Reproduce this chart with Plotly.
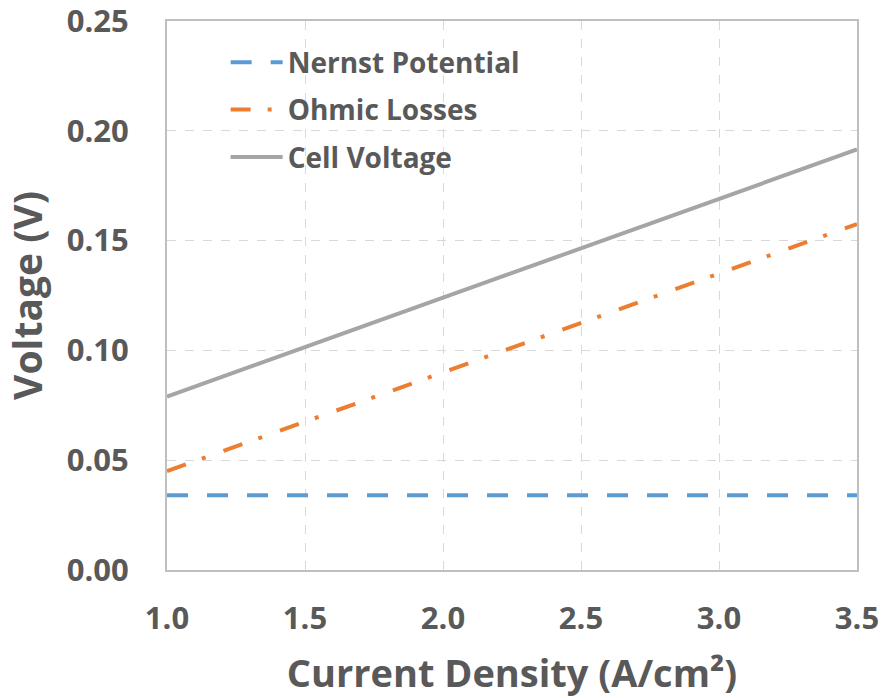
import plotly.graph_objects as go

current_density = [1.0, 1.5, 2.0, 2.5, 3.0, 3.5]
nernst_potential = [0.034, 0.034, 0.034, 0.034, 0.034, 0.034]
ohmic_losses = [0.045, 0.0675, 0.090, 0.1125, 0.135, 0.1575]
cell_voltage = [0.079, 0.1015, 0.124, 0.1465, 0.169, 0.1915]

x_ticks = [1.0, 1.5, 2.0, 2.5, 3.0, 3.5]
y_ticks = [0.00, 0.05, 0.10, 0.15, 0.20, 0.25]

FONT = "Open Sans"
TXT = "#595959"

fig = go.Figure()
fig.add_trace(go.Scatter(x=current_density, y=nernst_potential, mode="lines",
                         name="Nernst Potential", legendgroup="a",
                         line=dict(color="#5B9BD5", width=4, dash="21px,19px")))
fig.add_trace(go.Scatter(x=current_density, y=ohmic_losses, mode="lines",
                         name="Ohmic Losses", legendgroup="b",
                         line=dict(color="#ED7D31", width=4, dash="20px,17px,4px,19px")))
fig.add_trace(go.Scatter(x=current_density, y=cell_voltage, mode="lines",
                         name="Cell Voltage", legendgroup="c",
                         line=dict(color="#A5A5A5", width=4)))

axis_common = dict(
    showline=True, linecolor="#BFBFBF", linewidth=2, mirror=True,
    showgrid=True, gridcolor="#D9D9D9", gridwidth=1, griddash="dash",
    zeroline=False, ticks="", ticklabeloverflow="allow",
    tickfont=dict(family=FONT, size=31, color=TXT, weight="bold"),
)

fig.update_xaxes(range=[1.0, 3.5], tickvals=x_ticks,
                 ticktext=[f"{v:.1f}" for v in x_ticks],
                 ticklabelstandoff=20,
                 title=dict(text="Current Density (A/cm²)", standoff=33,
                            font=dict(family=FONT, size=38, color=TXT, weight="bold")),
                 **axis_common)
fig.update_yaxes(range=[0.0, 0.25], tickvals=y_ticks,
                 ticktext=[f"{v:.2f}" for v in y_ticks],
                 ticklabelstandoff=30,
                 title=dict(text="Voltage (V)", standoff=12,
                            font=dict(family=FONT, size=39, color=TXT, weight="bold")),
                 **axis_common)

fig.update_layout(
    width=881, height=698,
    margin=dict(l=167, r=24, t=21, b=128, autoexpand=False),
    paper_bgcolor="white", plot_bgcolor="white",
    showlegend=True,
    legend=dict(x=0.085, y=0.97, xanchor="left", yanchor="top",
                bgcolor="rgba(0,0,0,0)", tracegroupgap=8, itemwidth=52,
                font=dict(family=FONT, size=28, color=TXT, weight="bold")),
)

fig.write_html("out.html")
